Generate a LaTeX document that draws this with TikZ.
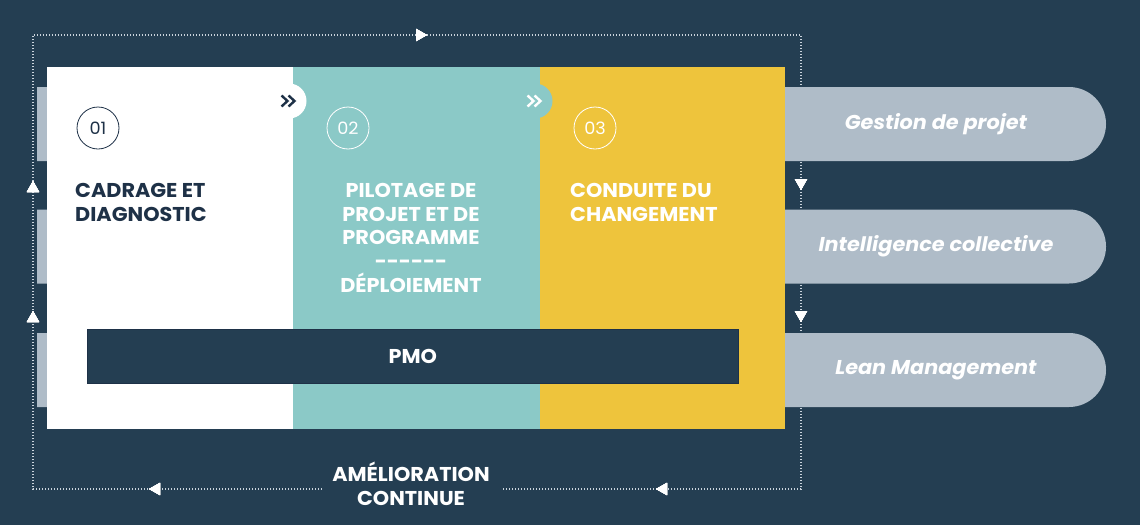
\documentclass[tikz,border=0pt]{standalone}
\usepackage{fontspec}
\setmainfont{Poppins}[FakeStretch=1.04]
\usepackage{xcolor}
\usepackage{tikz}
\usetikzlibrary{positioning}
\usetikzlibrary{decorations.markings}
\usetikzlibrary{arrows.meta}
\usetikzlibrary{shapes.misc}
\pgfdeclarelayer{nodelayer}
\pgfdeclarelayer{edgelayer}
\pgfsetlayers{edgelayer,nodelayer,main}

\definecolor{navy}{HTML}{243E52}
\definecolor{ink}{HTML}{1E3147}
\definecolor{pillgray}{HTML}{AFBCC8}
\definecolor{panelteal}{HTML}{8BC9C7}
\definecolor{mustard}{HTML}{EEC43C}
\definecolor{dotgray}{HTML}{C9D3DC}

\tikzset{
    pill/.style={rounded rectangle, rounded rectangle west arc=none, fill=pillgray,
        minimum width=1069pt, minimum height=74pt, inner sep=0pt},
    pilltext/.style={text=white, font=\bfseries\itshape\fontsize{20}{24}\selectfont},
    panel/.style={rectangle, anchor=north west, inner sep=0pt,
        minimum width=246.5pt, minimum height=361.5pt},
    numring/.style={circle, draw=#1, text=#1, line width=0.8pt, minimum size=42pt,
        inner sep=0pt, font=\fontsize{17}{20}\selectfont},
    chevron/.style={circle, fill=#1, minimum size=35pt, inner sep=0pt},
    chevline/.style={draw=#1, line width=2.4pt, miter limit=4},
    title/.style={inner sep=0pt, font=\bfseries\fontsize{20}{23.7}\selectfont},
    loopline/.style={draw=dotgray, line width=1.3pt, dash pattern=on 1.3pt off 1.7pt},
    looptip/.style={decoration={markings,
        mark=at position #1 with {\arrow[white, fill=white, solid]{Triangle[width=12pt,length=11pt]}}},
        postaction={decorate}}
}

\begin{document}
\begin{tikzpicture}[x=1pt, y=-1pt]
        \useasboundingbox (0,0) rectangle (1140,525);
        \begin{pgfonlayer}{edgelayer}
            \fill [navy] (0,0) rectangle (1140,525);
            \coordinate (c0) at (322, 489);
            \coordinate (c1) at (33, 489);
            \coordinate (c2) at (33, 35);
            \coordinate (c3) at (801, 35);
            \coordinate (c4) at (801, 489);
            \coordinate (c5) at (503, 489);
            \node [title, text=white, align=center] (lbl) at (411, 484) {AMÉLIORATION\\CONTINUE};
            \draw [loopline, looptip=173pt, looptip=467pt, looptip=597pt, looptip=1137pt,
                looptip=1666pt, looptip=1798pt, looptip=2110pt]
                (c0) -- (c1) -- (c2) -- (c3) -- (c4) -- (c5);
        \end{pgfonlayer}
        \begin{pgfonlayer}{nodelayer}
            \node [pill] (p1) at (571.5, 124) {};
            \node [pill] (p2) at (571.5, 246.5) {};
            \node [pill] (p3) at (571.5, 370) {};
            \node [panel, fill=white] (s1) at (47, 67) {};
            \node [panel, fill=panelteal] (s2) at (293, 67) {};
            \node [panel, fill=mustard, minimum width=245pt] (s3) at (540, 67) {};
        \end{pgfonlayer}
        % chevrons between the steps
        \node [chevron=white] (h1) at (289, 101) {};
        \node [chevron=panelteal] (h2) at (535, 101) {};
        \foreach \h/\c in {h1/ink, h2/white} {
            \draw [chevline=\c] ([shift={(-7.5,-5.5)}]\h.center) -- ++(6,5.5) -- ++(-6,5.5);
            \draw [chevline=\c] ([shift={(-0.5,-5.5)}]\h.center) -- ++(6,5.5) -- ++(-6,5.5);
        }
        \node [numring=ink] (n1) at (98, 128) {01};
        \node [numring=white] (n2) at (348, 128) {02};
        \node [numring=white] (n3) at (595, 128) {03};
        \node [title, text=ink, align=left, anchor=north west] (t1) at (75, 183) {CADRAGE ET\\DIAGNOSTIC};
        \node [title, text=white, align=center, anchor=north] (t2) at (411, 183) {PILOTAGE DE\\PROJET ET DE\\PROGRAMME\\-{}-{}-{}-{}-{}-\\DÉPLOIEMENT};
        \node [title, text=white, align=left, anchor=north west] (t3) at (570, 183) {CONDUITE DU\\CHANGEMENT};
        \node [rectangle, fill=navy, draw=ink, line width=0.6pt, minimum width=651pt, minimum height=54pt, anchor=north west] (pmo) at (87, 329) {};
        \node [title, text=white] (5) at (pmo.center) {PMO};
        \node [pilltext] (g1) at (936, 124) {Gestion de projet};
        \node [pilltext] (g2) at (936, 246.5) {Intelligence collective};
        \node [pilltext] (g3) at (936, 370) {Lean Management};
    \end{tikzpicture}
\end{document}
